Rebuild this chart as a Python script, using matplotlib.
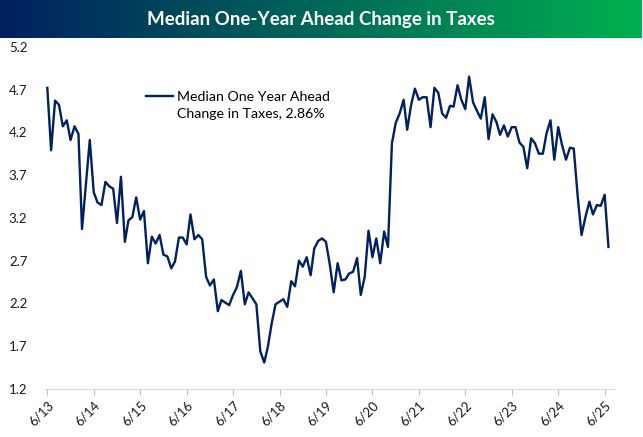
import numpy as np
import pandas as pd
import matplotlib
matplotlib.use('Agg')
import matplotlib.pyplot as plt
import matplotlib.dates as mdates
from matplotlib.colors import LinearSegmentedColormap

plt.rcParams['font.family'] = ['Lato', 'DejaVu Sans']

# Monthly readings, June 2013 through July 2025
start_month = '2013-06-01'
tax_change = [
    4.72, 3.99, 4.57, 4.52, 4.27, 4.34, 4.11, 4.27, 4.18, 3.07,
    3.60, 4.11, 3.50, 3.38, 3.35, 3.62, 3.57, 3.54, 3.14, 3.68,
    2.92, 3.17, 3.21, 3.44, 3.18, 3.28, 2.67, 2.98, 2.90, 3.00,
    2.77, 2.75, 2.61, 2.69, 2.97, 2.97, 2.89, 3.24, 2.95, 3.00,
    2.95, 2.51, 2.41, 2.48, 2.11, 2.24, 2.21, 2.18, 2.30, 2.39,
    2.58, 2.19, 2.33, 2.26, 2.19, 1.64, 1.51, 1.69, 1.97, 2.19,
    2.22, 2.25, 2.16, 2.46, 2.40, 2.70, 2.63, 2.74, 2.53, 2.84,
    2.93, 2.96, 2.92, 2.66, 2.33, 2.67, 2.47, 2.48, 2.55, 2.57,
    2.73, 2.30, 2.51, 3.05, 2.74, 2.96, 2.67, 3.04, 2.86, 4.07,
    4.31, 4.42, 4.58, 4.23, 4.52, 4.71, 4.58, 4.61, 4.61, 4.26,
    4.72, 4.66, 4.42, 4.37, 4.51, 4.50, 4.75, 4.58, 4.47, 4.85,
    4.55, 4.45, 4.36, 4.61, 4.12, 4.41, 4.32, 4.17, 4.28, 4.15,
    4.26, 4.26, 4.08, 4.03, 3.78, 4.13, 4.07, 3.95, 3.95, 4.19,
    4.34, 3.88, 4.26, 4.05, 3.88, 4.02, 4.01, 3.45, 3.00, 3.21,
    3.39, 3.24, 3.35, 3.34, 3.47, 2.86,
]
y_ticks = [1.2, 1.7, 2.2, 2.7, 3.2, 3.7, 4.2, 4.7, 5.2]
legend_lines = ['Median One Year Ahead', 'Change in Taxes, 2.86%']
title = 'Median One-Year Ahead Change in Taxes'

dates = pd.date_range(start_month, periods=len(tax_change), freq='MS')

fig = plt.figure(figsize=(6.43, 4.37), dpi=100)

# gradient title bar
tax = fig.add_axes([0, 1 - 38 / 437, 0.997, 38 / 437])
cmap = LinearSegmentedColormap.from_list('bar', ['#002060', '#00B050'])
tax.imshow(np.linspace(0, 1, 256).reshape(1, -1), aspect='auto', cmap=cmap,
           extent=[0, 1, 0, 1])
tax.set_axis_off()
tax.text(0.5, 0.5, title, ha='center', va='center', color='white',
         fontsize=13.5, fontweight='bold', transform=tax.transAxes)

ax = fig.add_axes([0.0706, 0.1098, 0.8848, 0.7833])
line, = ax.plot(dates, tax_change, color='#002060', lw=1.7)

ax.set_ylim(1.2, 5.2)
ax.set_yticks(y_ticks)
ax.set_yticklabels([f'{v:.1f}' for v in y_ticks])
ax.set_xlim(dates[0] - pd.Timedelta(days=15), dates[-1] + pd.Timedelta(days=46))
ax.xaxis.set_major_locator(mdates.MonthLocator(bymonth=6))
ax.xaxis.set_major_formatter(mdates.DateFormatter('%-m/%y'))

for s in ['top', 'right', 'left']:
    ax.spines[s].set_visible(False)
ax.spines['bottom'].set_color('#D9D9D9')
ax.tick_params(axis='y', length=0, pad=13, labelsize=9.5, labelcolor='#1a1a1a')
ax.tick_params(axis='x', length=4, color='#BFBFBF', labelsize=9.5,
               labelcolor='#1a1a1a', pad=3)
for lbl in ax.get_xticklabels():
    lbl.set_rotation(45)
    lbl.set_ha('right')
    lbl.set_rotation_mode('anchor')

# legend key sits on the first line, second line hangs below it
leg = ax.legend([line], [legend_lines[0]], loc='upper left',
                bbox_to_anchor=(0.177, 0.872), frameon=False,
                fontsize=10.2, handlelength=1.9, handletextpad=0.3,
                borderpad=0, borderaxespad=0)
ax.text(0.2313, 0.802, legend_lines[1], transform=ax.transAxes,
        fontsize=10.2, ha='left', va='center')

fig.savefig('out.png', dpi=100)
